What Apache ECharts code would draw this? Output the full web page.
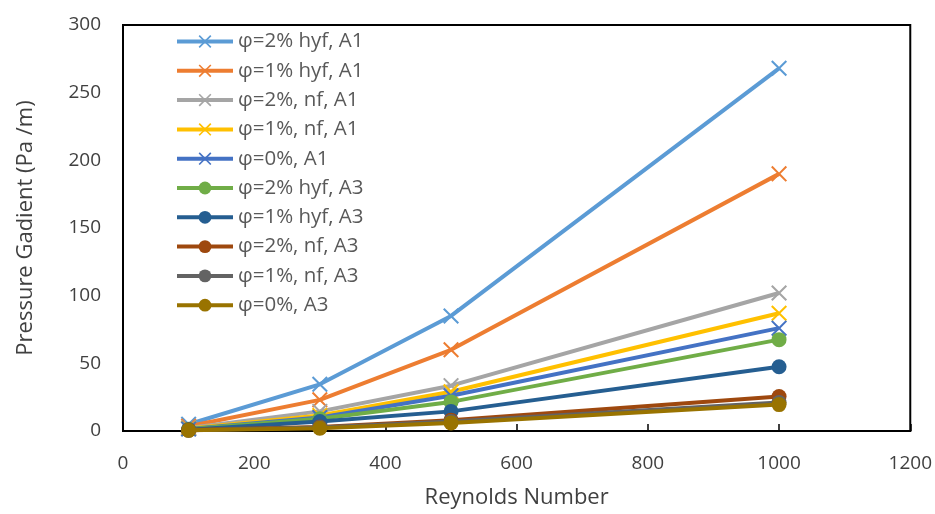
<!DOCTYPE html>
<html>
<head>
<meta charset="utf-8">
<script src="https://cdn.jsdelivr.net/npm/echarts@6/dist/echarts.min.js"></script>
<style>
html,body{margin:0;padding:0;background:#fff;}
#chart{width:935px;height:514px;}
</style>
</head>
<body>
<div id="chart"></div>
<script>
const reynolds = [100, 300, 500, 1000];
const seriesNames = [
  'φ=2% hyf, A1', 'φ=1% hyf, A1', 'φ=2%, nf, A1', 'φ=1%, nf, A1', 'φ=0%, A1',
  'φ=2% hyf, A3', 'φ=1% hyf, A3', 'φ=2%, nf, A3', 'φ=1%, nf, A3', 'φ=0%, A3'
];
const hyf2A1 = [5, 34.5, 85, 268];
const hyf1A1 = [3.5, 23, 60, 190];
const nf2A1 = [2.2, 14.5, 33.5, 102];
const nf1A1 = [1.8, 11.5, 29, 87];
const p0A1 = [1.5, 10, 26, 76];
const hyf2A3 = [1.3, 9, 21.5, 67.5];
const hyf1A3 = [1, 7, 14.5, 47.5];
const nf2A3 = [0.7, 3, 8, 25.5];
const nf1A3 = [0.6, 2.5, 7, 21];
const p0A3 = [0.5, 2, 6, 19.5];
const allValues = [hyf2A1, hyf1A1, nf2A1, nf1A1, p0A1, hyf2A3, hyf1A3, nf2A3, nf1A3, p0A3];
const xTicks = { min: 0, max: 1200, interval: 200 };
const yTicks = { min: 0, max: 300, interval: 50 };

const colors = ['#5B9BD5', '#ED7D31', '#A5A5A5', '#FFC000', '#4472C4',
                '#70AD47', '#255E91', '#9E480E', '#636363', '#997300'];
const crossPath = 'path://M0,9L9,0L50,41L91,0L100,9L59,50L100,91L91,100L50,59L9,100L0,91L41,50Z';

const series = allValues.map((vals, i) => {
  const isCross = i < 5;
  return {
    name: seriesNames[i],
    type: 'line',
    data: reynolds.map((x, j) => [x, vals[j]]),
    symbol: isCross ? crossPath : 'circle',
    symbolSize: isCross ? 16 : 15,
    showAllSymbol: true,
    lineStyle: { color: colors[i], width: 4 },
    itemStyle: { color: colors[i] },
    emphasis: { disabled: true },
    z: 2 + i
  };
});

const chart = echarts.init(document.getElementById('chart'), null, { renderer: 'canvas' });
const font = 'Open Sans';
chart.setOption({
  animation: false,
  backgroundColor: '#fff',
  grid: {
    left: 123, right: 24, top: 25, bottom: 82,
    show: true, borderColor: '#000', borderWidth: 2, backgroundColor: 'transparent'
  },
  legend: {
    orient: 'vertical',
    left: 170, top: 26,
    itemWidth: 56, itemHeight: 16,
    itemGap: 8.3,
    lineStyle: { width: 4 },
    textStyle: { fontFamily: font, fontSize: 20.5, lineHeight: 20, color: '#595959' },
    data: seriesNames
  },
  xAxis: {
    type: 'value',
    min: xTicks.min, max: xTicks.max, interval: xTicks.interval,
    name: 'Reynolds Number',
    nameLocation: 'middle', nameGap: 56,
    nameTextStyle: { fontFamily: font, fontSize: 22, color: '#404040' },
    axisLine: { show: true, lineStyle: { color: '#000', width: 2 } },
    axisTick: { show: true, inside: true, length: 7, lineStyle: { color: '#000', width: 1.5 } },
    axisLabel: { fontFamily: font, fontSize: 19, color: '#404040', margin: 23, formatter: v => String(v) },
    splitLine: { show: false }
  },
  yAxis: {
    type: 'value',
    min: yTicks.min, max: yTicks.max, interval: yTicks.interval,
    name: 'Pressure Gadient (Pa /m)',
    nameLocation: 'middle', nameGap: 86,
    nameTextStyle: { fontFamily: font, fontSize: 22, color: '#404040' },
    axisLine: { show: true, lineStyle: { color: '#000', width: 2 } },
    axisTick: { show: false },
    axisLabel: { fontFamily: font, fontSize: 19, color: '#404040', margin: 22, formatter: v => String(v) },
    splitLine: { show: false }
  },
  series: series
});
</script>
</body>
</html>
